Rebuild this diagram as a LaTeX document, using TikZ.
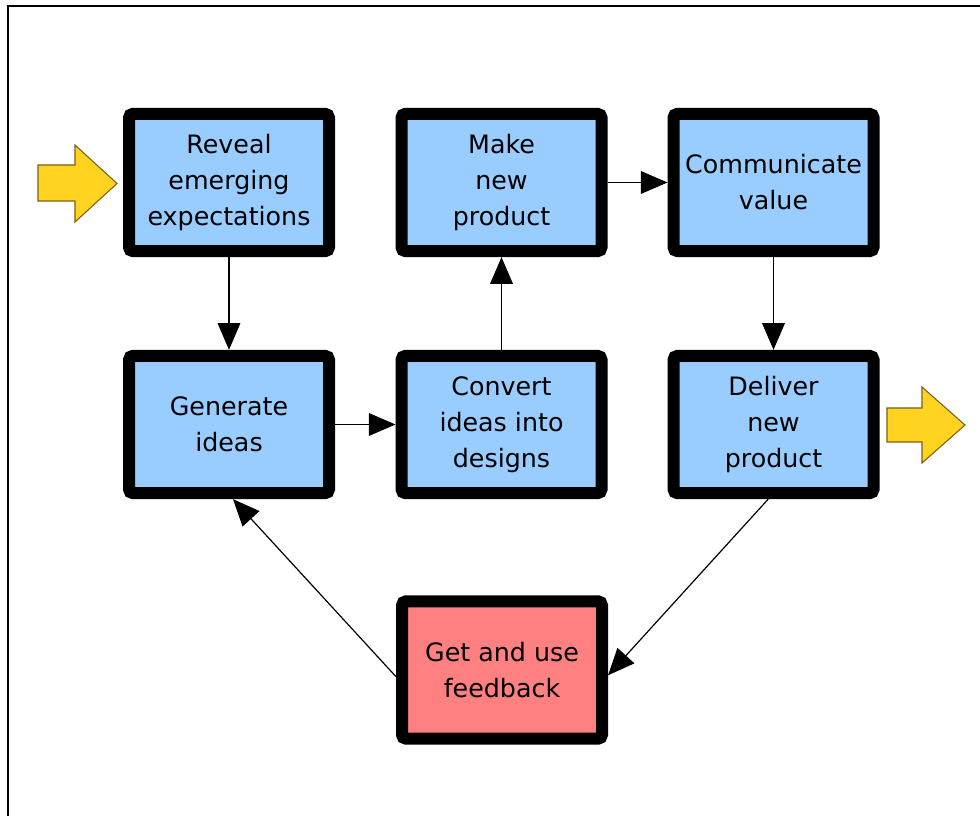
\documentclass[tikz,border=0pt]{standalone}
\usepackage{fontspec}
\setmainfont{DejaVu Sans}
\usetikzlibrary{arrows.meta}
\definecolor{boxblue}{RGB}{153,204,255}
\definecolor{boxred}{RGB}{255,128,128}
\definecolor{arryellow}{RGB}{255,211,32}
\definecolor{arredge}{RGB}{120,96,20}

\begin{document}
\begin{tikzpicture}[x=0.75pt,y=-0.75pt,
    stage/.style={draw=black,line width=9pt,rounded corners=3pt,fill=boxblue,
      minimum width=150pt,minimum height=103pt,align=center,
      font=\fontsize{19}{27}\selectfont},
    flow/.style={-{Triangle[length=20pt,width=17pt]},line width=0.9pt},
    bigarrow/.style={fill=arryellow,draw=arredge,line width=0.8pt}]
  \useasboundingbox (0,0) rectangle (980,816);

  % frame
  \draw[line width=1.6pt] (8,816) -- (8,6) -- (980,6);

  % stages
  \node[stage] (reveal) at (229,182.5) {Reveal\\emerging\\expectations};
  \node[stage] (make) at (501.5,182.5) {Make\\new\\product};
  \node[stage] (comm) at (773.5,182.5) {Communicate\\value};
  \node[stage] (gen) at (229,424.5) {Generate\\ideas};
  \node[stage] (conv) at (501.5,424.5) {Convert\\ideas into\\designs};
  \node[stage] (deliv) at (773.5,424.5) {Deliver\\new\\product};
  \node[stage,fill=boxred] (feed) at (502,670) {Get and use\\feedback};

  % in and out
  \draw[bigarrow] (38,165) -- (75,165) -- (75,145) -- (117,183.5)
    -- (75,222) -- (75,201) -- (38,201) -- cycle;
  \draw[bigarrow] (887,408) -- (922,408) -- (922,387) -- (965,425)
    -- (922,463) -- (922,442) -- (887,442) -- cycle;

  % flow between stages
  \draw[flow] (reveal) -- (gen);
  \draw[flow] (gen) -- (conv);
  \draw[flow] (conv) -- (make);
  \draw[flow] (make) -- (comm);
  \draw[flow] (comm) -- (deliv);
  \draw[flow] ([xshift=-4pt]deliv.south) -- ([yshift=-4pt]feed.east);
  \draw[flow] ([yshift=-5pt]feed.west) -- ([xshift=3pt]gen.south);
\end{tikzpicture}
\end{document}
